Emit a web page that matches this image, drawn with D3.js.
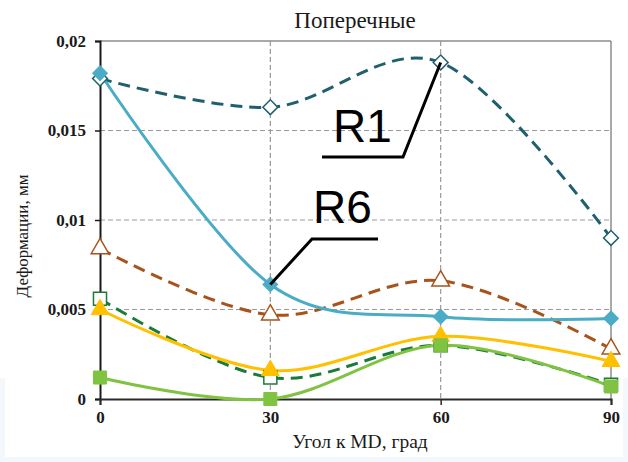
<!DOCTYPE html>
<html>
<head>
<meta charset="utf-8">
<script src="https://cdn.jsdelivr.net/npm/d3@7"></script>
<style>
  html, body { margin: 0; padding: 0; background: #ffffff; }
  svg { display: block; }
</style>
</head>
<body>
<svg id="chart" width="628" height="462"></svg>
<script>
// Angle to MD, degrees
const angles = [0, 30, 60, 90];
const xTickLabels = ["0", "30", "60", "90"];

// Transverse deformation, mm
const yTicks = [0, 0.005, 0.01, 0.015, 0.02];
const yTickLabels = ["0", "0,005", "0,01", "0,015", "0,02"];

const seriesR1     = [0.0179, 0.0163, 0.0188, 0.0090];
const seriesR6     = [0.0182, 0.0064, 0.0046, 0.0045];
const seriesBrown  = [0.0084, 0.0047, 0.0066, 0.0028];
const seriesGreen  = [0.0056, 0.0012, 0.0030, 0.0008];
const seriesYellow = [0.0050, 0.0016, 0.0035, 0.0021];
const seriesLime   = [0.0012, 0.0000, 0.0030, 0.0007];

const titleText = "Поперечные";
const xTitle = "Угол к MD, град";
const yTitle = "Деформации, мм";

const svg = d3.select("#chart");
const W = 628, H = 462;
const plot = { left: 100, right: 611, top: 41, bottom: 399 };

const serif = '"Liberation Serif", "Times New Roman", serif';
const sans = '"Liberation Sans", Arial, sans-serif';

const x = d3.scaleLinear().domain([0, 90]).range([plot.left, plot.right]);
const y = d3.scaleLinear().domain([0, 0.02]).range([plot.bottom, plot.top]);

// faint tinted margin along the lower edges
svg.append("rect").attr("x", 0).attr("y", 378).attr("width", W).attr("height", H - 378)
  .attr("fill", "#f3f8fd");
svg.append("rect").attr("x", 5).attr("y", 0).attr("width", 618).attr("height", 457)
  .attr("fill", "#ffffff");
svg.append("rect").attr("x", 0).attr("y", 0).attr("width", W).attr("height", 378)
  .attr("fill", "#ffffff");

// grid
const grid = svg.append("g");
grid.selectAll("line.h").data(yTicks.filter(v => v > 0 && v < 0.02)).join("line")
  .attr("x1", plot.left).attr("x2", plot.right)
  .attr("y1", d => y(d)).attr("y2", d => y(d))
  .attr("stroke", "#9a9a9a").attr("stroke-width", 1.2).attr("stroke-dasharray", "5,3");
grid.selectAll("line.v").data(angles.filter(v => v > 0 && v < 90)).join("line")
  .attr("x1", d => x(d)).attr("x2", d => x(d))
  .attr("y1", plot.top).attr("y2", plot.bottom)
  .attr("stroke", "#9a9a9a").attr("stroke-width", 1.2).attr("stroke-dasharray", "5,3");

// frame (top and right)
svg.append("line").attr("x1", plot.left).attr("x2", plot.right)
  .attr("y1", plot.top).attr("y2", plot.top).attr("stroke", "#8c8c8c").attr("stroke-width", 1.5);
svg.append("line").attr("x1", plot.right).attr("x2", plot.right)
  .attr("y1", plot.top).attr("y2", plot.bottom).attr("stroke", "#8c8c8c").attr("stroke-width", 1.5);

// axes
const yAxis = d3.axisLeft(y).tickValues(yTicks).tickSize(5).tickPadding(9)
  .tickFormat((d, i) => yTickLabels[i]);
const gy = svg.append("g").attr("transform", `translate(${plot.left},0)`).call(yAxis);
gy.select(".domain").attr("stroke", "#1a1a1a").attr("stroke-width", 2);
gy.selectAll(".tick line").attr("stroke", "#1a1a1a").attr("stroke-width", 1.5);
gy.selectAll(".tick text").style("font-family", serif).style("font-size", "17px")
  .style("font-weight", "bold").attr("fill", "#1a1a1a");

const xAxis = d3.axisBottom(x).tickValues(angles).tickSize(6).tickPadding(6)
  .tickFormat((d, i) => xTickLabels[i]);
const gx = svg.append("g").attr("transform", `translate(0,${plot.bottom})`).call(xAxis);
gx.select(".domain").attr("stroke", "#2a2a2a").attr("stroke-width", 2);
gx.selectAll(".tick line").attr("stroke", "#2a2a2a").attr("stroke-width", 1.5);
gx.selectAll(".tick text").style("font-family", serif).style("font-size", "17px")
  .style("font-weight", "bold").attr("fill", "#1a1a1a");

// titles
svg.append("text").attr("x", 355).attr("y", 28).attr("text-anchor", "middle")
  .style("font-family", serif).style("font-size", "23px").attr("fill", "#1a1a1a").text(titleText);
svg.append("text").attr("x", 360).attr("y", 448).attr("text-anchor", "middle")
  .style("font-family", serif).style("font-size", "19.5px").attr("fill", "#1a1a1a").text(xTitle);
svg.append("text").attr("transform", "translate(28,236) rotate(-90)")
  .attr("text-anchor", "middle")
  .style("font-family", serif).style("font-size", "17px").attr("fill", "#1a1a1a").text(yTitle);

// series
const curve = d3.curveCardinal.tension(0);
const line = d3.line().x((d, i) => x(angles[i])).y(d => y(d)).curve(curve);

const series = [
  { values: seriesR1,     color: "#1f5f6e", dash: "12,7", marker: "diamond",  filled: false },
  { values: seriesBrown,  color: "#a8531b", dash: "12,7", marker: "triangle", filled: false },
  { values: seriesGreen,  color: "#1b7a3a", dash: "12,7", marker: "square",   filled: false },
  { values: seriesR6,     color: "#4bacc6", dash: null,   marker: "diamond",  filled: true },
  { values: seriesYellow, color: "#ffc000", dash: null,   marker: "triangle", filled: true },
  { values: seriesLime,   color: "#80c342", dash: null,   marker: "square",   filled: true }
];

// diamonds are squares turned by 45 degrees
const symbolTypes = { diamond: d3.symbolSquare, triangle: d3.symbolTriangle, square: d3.symbolSquare };
const symbolSizes = { diamond: 110, triangle: 135, square: 170 };
const symbolRotation = { diamond: 45, triangle: 0, square: 0 };

const lines = svg.append("g");
series.forEach(s => {
  lines.append("path").datum(s.values).attr("d", line)
    .attr("fill", "none").attr("stroke", s.color).attr("stroke-width", 3)
    .attr("stroke-dasharray", s.dash);
});

series.forEach(s => {
  const sym = d3.symbol().type(symbolTypes[s.marker]).size(symbolSizes[s.marker]);
  svg.append("g").selectAll("path").data(s.values).join("path")
    .attr("transform", (d, i) => `translate(${x(angles[i])},${y(d)}) rotate(${symbolRotation[s.marker]})`)
    .attr("d", sym)
    .attr("fill", s.filled ? s.color : "#ffffff")
    .attr("stroke", s.color)
    .attr("stroke-width", s.filled ? 1 : 1.5);
});

// callouts
const callouts = [
  { label: "R1", series: seriesR1, idx: 2, tx: 333, ty: 142, x1: 322, x2: 403, ly: 157 },
  { label: "R6", series: seriesR6, idx: 1, tx: 313, ty: 223, x1: 378, x2: 312, ly: 239 }
];
callouts.forEach(c => {
  const px = x(angles[c.idx]), py = y(c.series[c.idx]);
  svg.append("polyline")
    .attr("points", `${c.x1},${c.ly} ${c.x2},${c.ly} ${px},${py}`)
    .attr("fill", "none").attr("stroke", "#000").attr("stroke-width", 3);
  svg.append("text").attr("x", c.tx).attr("y", c.ty)
    .style("font-family", sans).style("font-size", "46px").attr("fill", "#000").text(c.label);
});
</script>
</body>
</html>
